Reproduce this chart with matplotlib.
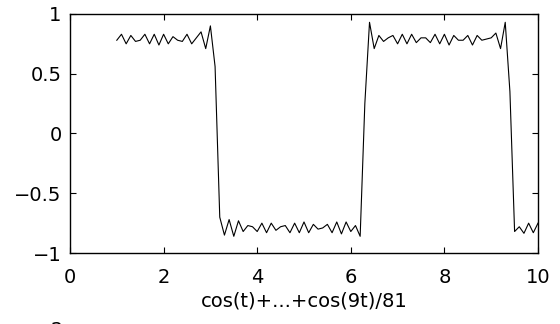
import matplotlib
matplotlib.use("Agg")
import matplotlib.pyplot as plt

plt.rcParams["font.family"] = ["DejaVu Sans"]

# samples of the partial sum
t = [1.0, 1.1, 1.2, 1.3, 1.4, 1.5, 1.6, 1.7, 1.8, 1.9,
     2.0, 2.1, 2.2, 2.3, 2.4, 2.5, 2.6, 2.7, 2.8, 2.9,
     3.0, 3.1, 3.2, 3.3, 3.4, 3.5, 3.6, 3.7, 3.8, 3.9,
     4.0, 4.1, 4.2, 4.3, 4.4, 4.5, 4.6, 4.7, 4.8, 4.9,
     5.0, 5.1, 5.2, 5.3, 5.4, 5.5, 5.6, 5.7, 5.8, 5.9,
     6.0, 6.1, 6.2, 6.3, 6.4, 6.5, 6.6, 6.7, 6.8, 6.9,
     7.0, 7.1, 7.2, 7.3, 7.4, 7.5, 7.6, 7.7, 7.8, 7.9,
     8.0, 8.1, 8.2, 8.3, 8.4, 8.5, 8.6, 8.7, 8.8, 8.9,
     9.0, 9.1, 9.2, 9.3, 9.4, 9.5, 9.6, 9.7, 9.8, 9.9, 10.0]
y = [0.78, 0.83, 0.75, 0.82, 0.77, 0.78, 0.83, 0.75, 0.83, 0.74,
     0.83, 0.75, 0.81, 0.78, 0.77, 0.83, 0.75, 0.80, 0.85, 0.71,
     0.90, 0.56, -0.70, -0.85, -0.72, -0.86, -0.73, -0.82, -0.77, -0.78,
     -0.82, -0.75, -0.83, -0.75, -0.81, -0.78, -0.77, -0.83, -0.75, -0.83,
     -0.74, -0.83, -0.76, -0.80, -0.79, -0.76, -0.83, -0.74, -0.84, -0.74,
     -0.82, -0.77, -0.86, 0.25, 0.93, 0.71, 0.82, 0.77, 0.80, 0.82,
     0.75, 0.83, 0.75, 0.83, 0.76, 0.80, 0.80, 0.76, 0.83, 0.75,
     0.83, 0.74, 0.82, 0.78, 0.78, 0.82, 0.74, 0.82, 0.78, 0.79,
     0.80, 0.84, 0.71, 0.93, 0.35, -0.82, -0.78, -0.835, -0.75, -0.83, -0.75]

xticks = [0, 2, 4, 6, 8, 10]
yticks = [-1, -0.5, 0, 0.5, 1]
ylabels = ["\u22121", "\u22120.5", "0", "0.5", "1"]

fig = plt.figure(figsize=(5.6, 3.24), dpi=100)
ax = fig.add_axes([0.125, 0.219, 0.8357, 0.738])
ax.plot(t, y, color="black", linewidth=0.8)

ax.set_xlim(0, 10)
ax.set_ylim(-1, 1)
ax.set_xticks(xticks)
ax.set_yticks(yticks)
ax.set_yticklabels(ylabels)
ax.tick_params(direction="in", length=4, width=0.8, labelsize=14,
               top=True, right=True)
ax.tick_params(axis="x", pad=11)
ax.tick_params(axis="y", pad=6)
for s in ax.spines.values():
    s.set_linewidth(1.0)
ax.set_xlabel("cos(t)+...+cos(9t)/81", fontsize=14, labelpad=3)

# top of a clipped label from the next panel
fig.text(57 / 560, -12 / 324, "2", fontsize=14, ha="center", va="baseline")

fig.savefig("out.png", dpi=100)
